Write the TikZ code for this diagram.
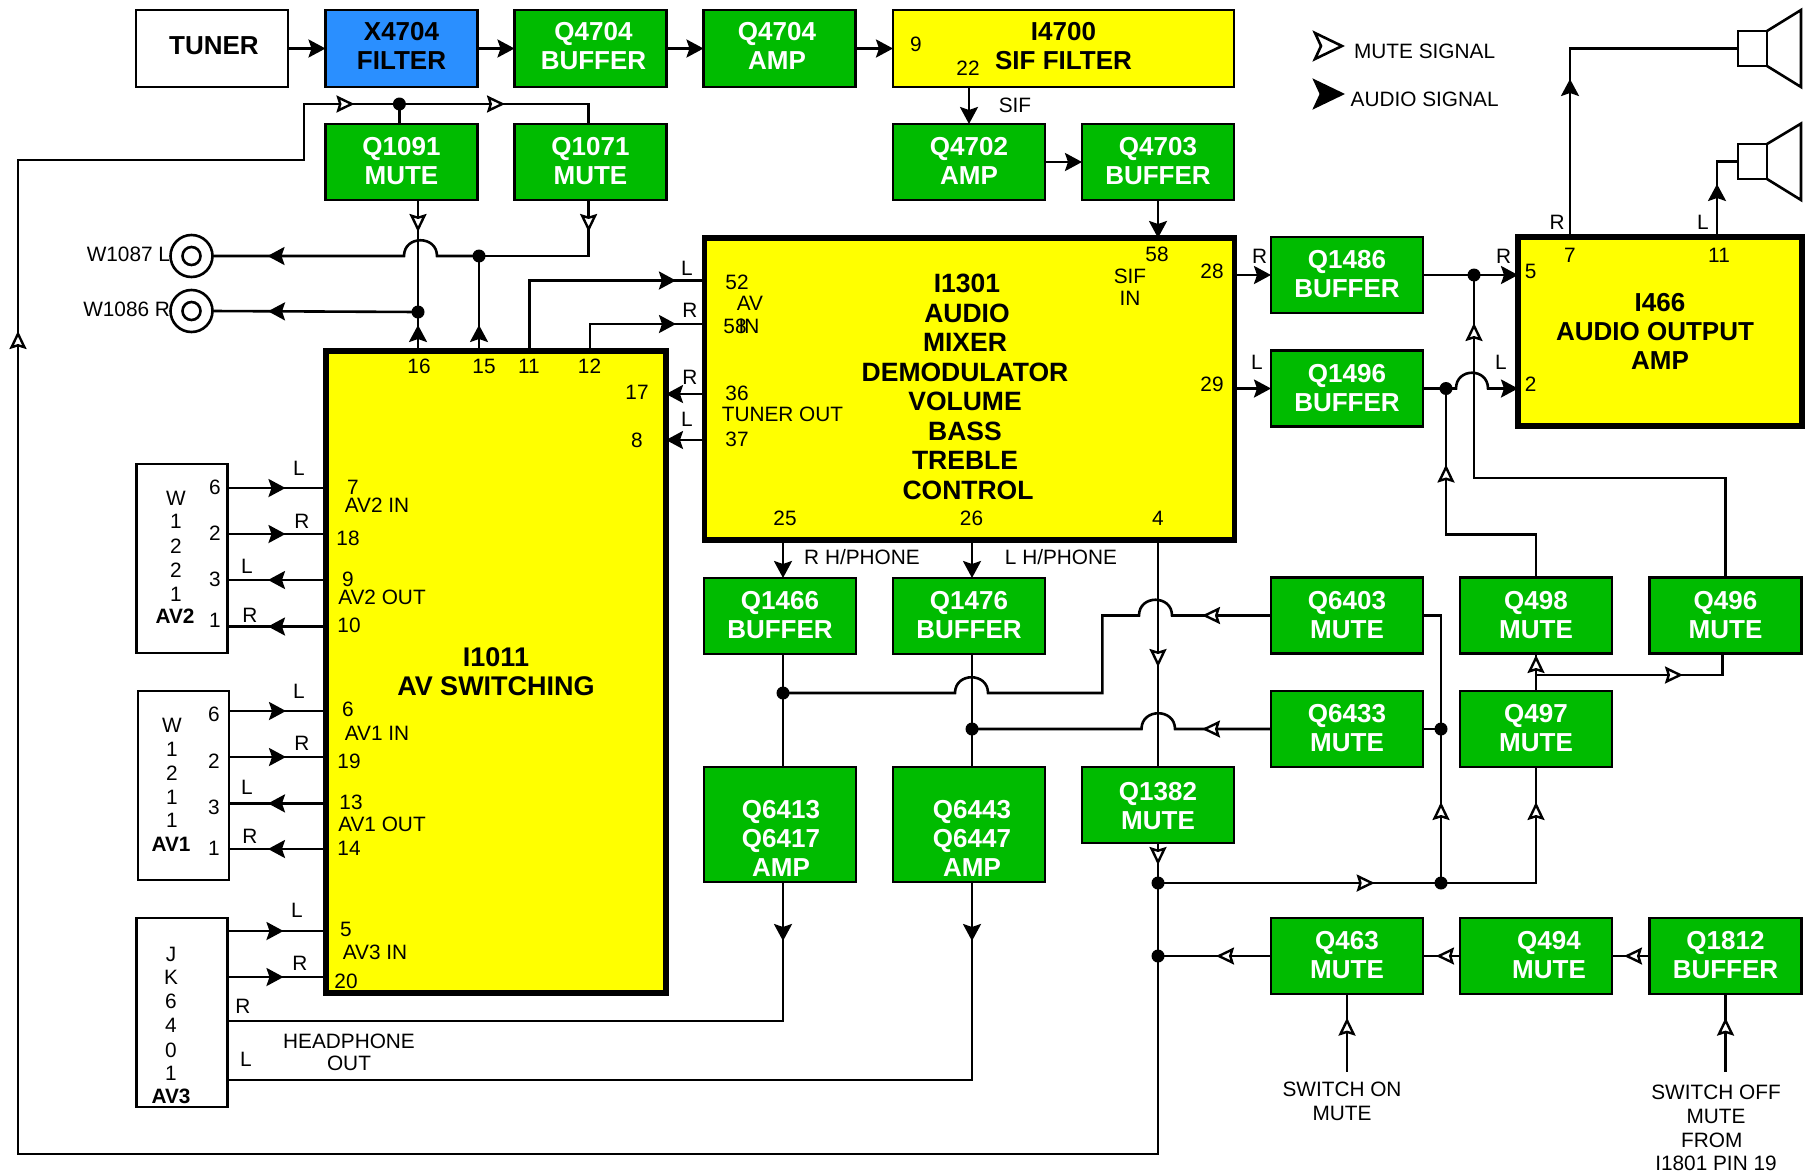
\documentclass[tikz,border=0pt]{standalone}
\usepackage{fontspec}
\setmainfont{Liberation Sans}
\usetikzlibrary{arrows.meta,decorations.markings,calc}
\definecolor{boxgreen}{HTML}{00BB00}
\definecolor{boxblue}{HTML}{2A8FFF}
\definecolor{boxyellow}{HTML}{FFFF00}
\newcommand\boxfont{\fontsize{26}{29}\selectfont\bfseries}
\newcount\labn
\newcommand\lab[4][]{\global\advance\labn by 1 \node[lbl,#1] (lbl\the\labn) at (#2,#3) {#4};}
\newcommand\hop[3]{(#1,#2) .. controls (#1,#2-21) and (#3,#2-21) .. (#3,#2)}
\tikzset{
  fhead/.tip={Stealth[length=17pt,width=18pt,inset=3pt]},
  mhead/.tip={Stealth[length=18pt,width=17pt,inset=2.5pt,fill=white,line width=2.4pt]},
  wire/.style={line width=2.6pt,draw=black},
  fa/.style={postaction={decorate,decoration={markings,mark=at position #1pt with {\arrow{fhead}}}}},
  ma/.style={postaction={decorate,decoration={markings,mark=at position #1pt with {\arrow{mhead}}}}},
  box/.style={draw=black,line width=2.8pt,inner sep=0pt,outer sep=0pt,minimum height=76pt,minimum width=152pt,align=center,font=\boxfont},
  gbox/.style={box,fill=boxgreen,text=white,text depth=1.5pt},
  topbox/.style={minimum height=77pt,text depth=5pt},
  ybox/.style={box,fill=boxyellow,line width=5.5pt},
  conn/.style={draw=black,line width=2.6pt,inner sep=0pt,outer sep=0pt,minimum width=91pt,minimum height=189pt},
  junct/.style={circle,fill=black,inner sep=0pt,outer sep=0pt,minimum size=13pt},
  ring/.style={circle,draw=black,line width=2.6pt,inner sep=0pt,outer sep=0pt,minimum size=42pt,fill=white},
  ringin/.style={circle,draw=black,line width=2.6pt,inner sep=0pt,outer sep=0pt,minimum size=18pt},
  spk/.style={draw=black,line width=2.6pt,inner sep=0pt,outer sep=0pt,minimum width=29pt,minimum height=35pt},
  lbl/.style={inner sep=0pt,outer sep=0pt,font=\fontsize{20.8}{24}\selectfont,align=center},
  ttl/.style={inner sep=0pt,outer sep=0pt,font=\fontsize{26.5}{29.5}\selectfont\bfseries,align=center},
  wtx/.style={inner sep=0pt,outer sep=0pt,font=\boxfont,align=center,text=white},
}
\begin{document}
\begin{tikzpicture}[x=1pt,y=-1pt]
\useasboundingbox (0,0) rectangle (1807,1175);
% top row
\node[box,fill=white,topbox] (tuner) at (212,48.5) {\hspace*{4pt}TUNER};
\node[box,fill=boxblue,topbox] (x4704) at (401.5,48.5) {X4704\\FILTER};
\node[gbox,topbox] (q4704b) at (590.5,48.5) {\hspace*{6pt}Q4704\\\hspace*{6pt}BUFFER};
\node[gbox,topbox] (q4704a) at (779.5,48.5) {\hspace*{-5pt}Q4704\\\hspace*{-5pt}AMP};
\node[box,fill=boxyellow,topbox,minimum width=341pt] (i4700) at (1063.5,48.5) {I4700\\SIF FILTER};
% second row
\node[gbox] (q1091) at (401.5,162) {Q1091\\MUTE};
\node[gbox] (q1071) at (590.5,162) {Q1071\\MUTE};
\node[gbox] (q4702) at (969,162) {Q4702\\AMP};
\node[gbox] (q4703) at (1158,162) {Q4703\\BUFFER};
% ICs
\node[ybox,minimum width=530pt,minimum height=302pt] (i1301) at (969.5,389) {};
\node[ybox,minimum width=340pt,minimum height=642pt,font=\fontsize{27}{29}\selectfont\bfseries] (i1011) at (496,672) {I1011\\AV SWITCHING};
\node[ybox,minimum width=284pt,minimum height=189pt] (i466) at (1660,331.5) {I466\\\hspace*{-10pt}AUDIO OUTPUT\\AMP};
\node[ttl] (i1301t) at (965,387) {\hspace*{4pt}I1301\\\hspace*{4pt}AUDIO\\MIXER\\DEMODULATOR\\VOLUME\\BASS\\TREBLE\\\hspace*{6pt}CONTROL};
% green boxes
\node[gbox] (q1486) at (1347,275) {Q1486\\BUFFER};
\node[gbox] (q1496) at (1347,388.5) {Q1496\\BUFFER};
\node[gbox,text depth=3pt] (q1466) at (780,616) {Q1466\\BUFFER};
\node[gbox,text depth=3pt] (q1476) at (969,616) {Q1476\\BUFFER};
\node[gbox,minimum height=115pt] (q6413) at (780,824.5) {};
\node[wtx] (q6413t) at (781,838) {Q6413\\Q6417\\AMP};
\node[gbox,minimum height=115pt] (q6443) at (969,824.5) {};
\node[wtx] (q6443t) at (972,838) {Q6443\\Q6447\\AMP};
\node[gbox] (q1382) at (1158,805) {};
\node[wtx] (q1382t) at (1158,806) {Q1382\\MUTE};
\node[gbox] (q6403) at (1347,615.5) {Q6403\\MUTE};
\node[gbox] (q6433) at (1347,729) {Q6433\\MUTE};
\node[gbox] (q498) at (1536,615.5) {Q498\\MUTE};
\node[gbox] (q496) at (1725.5,615.5) {Q496\\MUTE};
\node[gbox] (q497) at (1536,729) {Q497\\MUTE};
\node[gbox] (q463) at (1347,956) {Q463\\MUTE};
\node[gbox] (q494) at (1536,956) {\hspace*{26pt}Q494\\\hspace*{26pt}MUTE};
\node[gbox] (q1812) at (1725.5,956) {Q1812\\BUFFER};
% connector boxes
\node[conn] (av2) at (182,558.5) {};
\node[conn] (av1) at (183.5,785.5) {};
\node[conn] (av3) at (182,1012.5) {};
% rings
\node[ring] (w1087) at (191.5,256) {};
\node[ringin] (w1087i) at (191.5,256) {};
\node[ring] (w1086) at (191.5,311) {};
\node[ringin] (w1086i) at (191.5,311) {};
% speakers
\node[spk] (sp1) at (1752.5,48.5) {};
\node[spk] (sp2) at (1752.5,161.5) {};
\draw[wire] (sp1.north east) -- (1801,10) -- (1801,87) -- (sp1.south east);
\draw[wire] (sp2.north east) -- (1801,123.6) -- (1801,200) -- (sp2.south east);
% junctions
\node[junct] (jT) at (399.4,104) {};
\node[junct] (jL) at (479,256) {};
\node[junct] (jR) at (418,312) {};
\node[junct] (jP) at (1474,275) {};
\node[junct] (jQ) at (1446,388.5) {};
\node[junct] (jD) at (783,693) {};
\node[junct] (jC) at (972,729) {};
\node[junct] (jNN) at (1441,729) {};
\node[junct] (jM) at (1158,883) {};
\node[junct] (jN) at (1441,883) {};
\node[junct] (jB) at (1158,956) {};
% free coordinates
\coordinate (p16) at (418,352);
\coordinate (p15) at (479,352);
\coordinate (p11) at (529.4,352);
\coordinate (p12) at (590,352);
\coordinate (p4) at (1158,540);
\coordinate (r17) at (666,394);
\coordinate (r8) at (666,440);
\coordinate (x1071) at (588.6,104);
\coordinate (c1) at (1158,1154);
\coordinate (c2) at (18,1154);
\coordinate (c3) at (18,160);
\coordinate (c4) at (304,160);
\coordinate (c5) at (304,104);
\coordinate (b1) at (1536,675);
\coordinate (b2) at (1722.6,675);
\coordinate (sw1) at (1347,1071.6);
\coordinate (sw2) at (1725.5,1071.6);
% top row wires
\draw[wire,-{fhead}] (tuner.east) -- (x4704.west);
\draw[wire,-{fhead}] (x4704.east) -- (q4704b.west);
\draw[wire,-{fhead}] (q4704b.east) -- (q4704a.west);
\draw[wire,-{fhead}] (q4704a.east) -- (i4700.west);
\draw[wire,-{fhead}] (i4700.south -| q4702.north) -- (q4702.north);
\draw[wire,-{fhead}] (q4702.east) -- (q4703.west);
\draw[wire,-{fhead}] (q4703.south) -- (i1301.north -| q4703.south);
% mute bus
\draw[wire,ma=2161,ma=2724.5] (jB.center) -- (c1) -- (c2) -- (c3) -- (c4) -- (c5) -- (jT.center);
\draw[wire,ma=105.6] (jT.center) -- (x1071) -- (q1071.north -| x1071);
\draw[wire] (q1091.north -| jT) -- (jT.center);
% outputs to rings
\draw[wire,ma=32] (q1091.south -| jR) -- (jR.center);
\draw[wire,fa=27] (p16) -- (jR.center);
\draw[wire,fa=150] (jR.center) -- (w1086.east);
\draw[wire,ma=32] (q1071.south -| x1071) -- (x1071 |- jL) -- (jL.center);
\draw[wire,fa=-55] (jL.center) -- \hop{437}{256}{404} -- (w1087.east);
\draw[wire,fa=27] (p15) -- (jL.center);
% I1011 to I1301
\draw[wire,fa=218] (p11) -- (529.4,280.5) -- (i1301.west |- 0,280.5);
\draw[wire,fa=114] (p12) -- (590,324) -- (i1301.west |- 0,324);
\draw[wire,-{fhead}] (i1301.west |- r17) -- (r17);
\draw[wire,-{fhead}] (i1301.west |- r8) -- (r8);
% AV2
\foreach \n/\y in {a/488,b/534}{\draw[wire,fa=58] (av2.east |- 0,\y) -- (i1011.west |- 0,\y);}
\foreach \n/\y in {c/580,d/626.5}{\draw[wire,fa=58] (i1011.west |- 0,\y) -- (av2.east |- 0,\y);}
% AV1
\foreach \n/\y in {a/711,b/757}{\draw[wire,fa=57] (av1.east |- 0,\y) -- (i1011.west |- 0,\y);}
\foreach \n/\y in {c/803.4,d/849}{\draw[wire,fa=58] (i1011.west |- 0,\y) -- (av1.east |- 0,\y);}
% AV3
\foreach \n/\y in {a/931,b/977}{\draw[wire,fa=56] (av3.east |- 0,\y) -- (i1011.west |- 0,\y);}
% headphone
\draw[wire,fa=59] (q6413.south -| jD) -- (jD |- 0,1021) -- (av3.east |- 0,1021);
\draw[wire,fa=59] (q6443.south -| jC) -- (jC |- 0,1080) -- (av3.east |- 0,1080);
% I1301 down
\draw[wire,-{fhead}] (i1301.south -| jD) -- (q1466.north -| jD);
\draw[wire,-{fhead}] (i1301.south -| jC) -- (q1476.north -| jC);
\draw[wire] (q1466.south -| jD) -- (q6413.north -| jD);
\draw[wire] (q1476.south -| jC) -- (q6443.north -| jC);
\draw[wire,ma=127] (p4) -- (q1382.north);
\draw[wire,ma=22] (q1382.south) -- (jM.center);
\draw[wire] (jM.center) -- (jB.center);
% mute to headphones
\draw[wire,ma=69] (q6403.west) -- \hop{1172}{615.5}{1139} -- (1102.4,615.5) -- (1102.4,693) -- \hop{988}{693}{955} -- (jD.center);
\draw[wire,ma=69] (q6433.west) -- \hop{1175}{729}{1141.5} -- (jC.center);
\draw[wire] (q6433.east) -- (jNN.center);
\draw[wire] (jNN.center) -- (jNN |- q6403.east) -- (q6403.east);
\draw[wire,ma=216.7] (jM.center) -- (jN.center);
\draw[wire,ma=81] (jN.center) -- (jNN.center);
\draw[wire,ma=176] (jN.center) -- (q497.south |- jN) -- (q497.south);
\draw[wire,ma=36] (q497.north) -- (q498.south);
\draw[wire,ma=147] (b1) -- (b2) -- (q496.south -| b2);
\draw[wire,ma=203] (q498.north) -- (1536,534.6) -- (1446,534.6) -- (jQ.center);
\draw[wire,ma=506] (q496.north) -- (1725.5,478) -- (1474,478) -- (jP.center);
% bottom row
\draw[wire,ma=55] (q463.west) -- (jB.center);
\draw[wire,ma=24] (q494.west) -- (q463.east);
\draw[wire,ma=25.5] (q1812.west) -- (q494.east);
\draw[wire,ma=54] (sw1) -- (q463.south);
\draw[wire,ma=54] (sw2) -- (q1812.south);
% buffers to I466
\draw[wire,-{fhead}] (i1301.east |- q1486.west) -- (q1486.west);
\draw[wire,-{fhead}] (i1301.east |- q1496.west) -- (q1496.west);
\draw[wire] (q1486.east) -- (jP.center);
\draw[wire,-{fhead}] (jP.center) -- (i466.west |- jP);
\draw[wire] (q1496.east) -- (jQ.center);
\draw[wire,-{fhead}] (jQ.center) -- \hop{1456}{388.5}{1488} -- (i466.west |- jQ);
% I466 to speakers
\draw[wire,fa=158] (i466.north -| 1570,0) -- (1570,48.5) -- (sp1.west);
\draw[wire,fa=53] (i466.north -| 1717,0) -- (1717,161.5) -- (sp2.west);
% legend
\draw[wire,fill=white] (1315,33) -- (1342,46) -- (1315,59) -- (1321,46) -- cycle;
\draw[wire,fill=black] (1315,81) -- (1342,94) -- (1315,107) -- (1321,94) -- cycle;
\lab{1424.6}{51}{MUTE SIGNAL}
\lab{1424.6}{99}{AUDIO SIGNAL}
% labels top
\lab{916}{44}{9}
\lab{968}{68}{22}
\lab{1015}{105}{SIF}
\lab[anchor=east]{170}{254}{W1087 L}
\lab[anchor=east]{170}{309}{W1086 R}
\lab{419}{366}{16}
\lab{484}{366}{15}
\lab{529}{366}{11}
\lab{589.5}{366}{12}
\lab{637}{392}{17}
\lab{637}{440}{8}
\lab{687}{268}{L}
\lab{690}{310}{R}
\lab{690}{377}{R}
\lab{687}{419}{L}
% AV2
\lab{299}{468}{L}
\lab{302}{521.5}{R}
\lab{247}{566}{L}
\lab{250}{615}{R}
\lab{353}{487}{7}
\lab{377}{505.5}{AV2 IN}
\lab{348}{538}{18}
\lab{348}{579}{9}
\lab{382}{597.5}{AV2 OUT}
\lab{349}{625}{10}
\lab{176}{498}{W}
\lab{176}{521.5}{1}
\lab{176}{546}{2}
\lab{176}{570}{2}
\lab{176}{594}{1}
\lab{175}{616}{\textbf{AV2}}
\lab{215}{487}{6}
\lab{215}{533}{2}
\lab{215}{579}{3}
\lab{215}{620}{1}
% AV1
\lab{299}{691}{L}
\lab{302}{743.6}{R}
\lab{247}{787}{L}
\lab{250}{836}{R}
\lab{348}{709}{6}
\lab{377}{733}{AV1 IN}
\lab{349}{761}{19}
\lab{351}{802}{13}
\lab{382}{824}{AV1 OUT}
\lab{349}{848}{14}
\lab{172}{725}{W}
\lab{172}{749}{1}
\lab{172}{773}{2}
\lab{172}{797}{1}
\lab{172}{820}{1}
\lab{171}{844}{\textbf{AV1}}
\lab{214}{714}{6}
\lab{214}{761}{2}
\lab{214}{807}{3}
\lab{214}{848}{1}
% AV3
\lab{297}{910}{L}
\lab{300}{963}{R}
\lab{346}{929}{5}
\lab{375}{952}{AV3 IN}
\lab{346}{981}{20}
\lab{171}{954}{J}
\lab{171}{977}{K}
\lab{171}{1001.6}{6}
\lab{171}{1025}{4}
\lab{171}{1050}{0}
\lab{171}{1073}{1}
\lab{171}{1096.6}{\textbf{AV3}}
\lab{243}{1006}{R}
\lab{246}{1059}{L}
\lab{349}{1041}{HEADPHONE}
\lab{349}{1063.6}{OUT}
% I1301
\lab{737}{282}{52}
\lab{750}{303}{AV}
\lab{735}{326}{58}
\lab{749}{326}{IN}
\lab{737}{393}{36}
\lab{782.5}{414}{TUNER OUT}
\lab{737}{439}{37}
\lab{785}{518.6}{25}
\lab{971.5}{518.6}{26}
\lab{862}{556.6}{R H/PHONE}
\lab{1061}{556.6}{L H/PHONE}
\lab{1157}{254}{58}
\lab{1130}{276}{SIF}
\lab{1130}{298}{IN}
\lab{1212}{271}{28}
\lab{1212}{384}{29}
\lab{1158}{518.5}{4}
\lab{1259.6}{256}{R}
\lab{1257}{362.5}{L}
\lab{1503.5}{256}{R}
\lab{1501}{362.5}{L}
\lab{1530.6}{271}{5}
\lab{1530.6}{384}{2}
\lab{1570}{255}{7}
\lab{1719}{255}{11}
\lab{1557}{222}{R}
\lab{1703}{222}{L}
% bottom texts
\lab{1342}{1089}{SWITCH ON}
\lab{1342}{1113}{MUTE}
\lab{1716}{1092.6}{SWITCH OFF}
\lab{1716}{1116}{MUTE}
\lab{1711.8}{1140}{FROM}
\lab{1716}{1163.5}{I1801 PIN 19}
\end{tikzpicture}
\end{document}
